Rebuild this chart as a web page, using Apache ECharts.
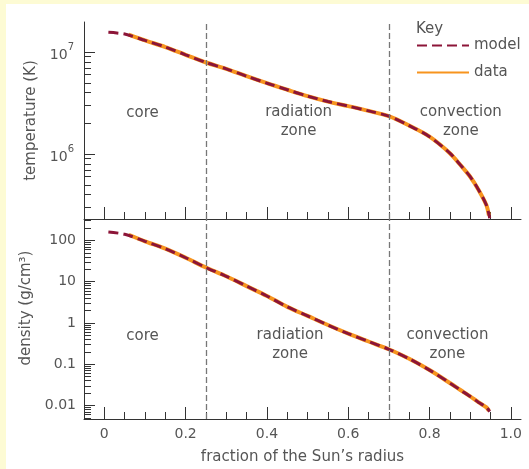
<!DOCTYPE html>
<html>
<head>
<meta charset="utf-8">
<script src="https://cdn.jsdelivr.net/npm/echarts@6/dist/echarts.min.js"></script>
<style>
html, body { margin: 0; padding: 0; background: #fdfbd4; }
#chart { width: 529px; height: 469px; }
</style>
</head>
<body>
<div id="chart"></div>
<script>
// radius as a fraction of the Sun's radius
const modelRadius = [0.01, 0.05, 0.1, 0.15, 0.2, 0.25, 0.3, 0.35, 0.4, 0.45, 0.5, 0.55, 0.6, 0.65, 0.7, 0.75, 0.8, 0.85, 0.875, 0.9, 0.92, 0.94, 0.948]
const modelTemp = [1.56e7, 1.50e7, 1.30e7, 1.12e7, 9.4e6, 7.9e6, 6.85e6, 5.8e6, 4.95e6, 4.27e6, 3.7e6, 3.27e6, 2.95e6, 2.65e6, 2.35e6, 1.9e6, 1.48e6, 1.02e6, 7.9e5, 6.0e5, 4.5e5, 3.15e5, 2.35e5]
const modelDensity = [160, 141, 95, 63, 38, 22, 13.5, 7.8, 4.5, 2.45, 1.48, 0.89, 0.55, 0.355, 0.23, 0.135, 0.072, 0.035, 0.024, 0.0166, 0.012, 0.009, 0.0071]

const dataRadius = [0.06, 0.1, 0.15, 0.2, 0.25, 0.3, 0.35, 0.4, 0.45, 0.5, 0.55, 0.6, 0.65, 0.7, 0.75, 0.8, 0.85, 0.875, 0.9, 0.92, 0.94, 0.946]
const dataTemp = [1.48e7, 1.30e7, 1.12e7, 9.4e6, 7.9e6, 6.85e6, 5.8e6, 4.95e6, 4.27e6, 3.7e6, 3.27e6, 2.95e6, 2.65e6, 2.35e6, 1.9e6, 1.48e6, 1.02e6, 7.9e5, 6.0e5, 4.5e5, 3.15e5, 2.5e5]
const dataDensity = [137, 95, 63, 38, 22, 13.5, 7.8, 4.5, 2.45, 1.48, 0.89, 0.55, 0.355, 0.23, 0.135, 0.072, 0.035, 0.024, 0.0166, 0.012, 0.009, 0.0075]

// axis ticks
const xMinorTicks = [0, 0.05, 0.1, 0.15, 0.2, 0.25, 0.3, 0.35, 0.4, 0.45, 0.5, 0.55, 0.6, 0.65, 0.7, 0.75, 0.8, 0.85, 0.9, 0.95, 1.0]
const xMajorTicks = [0, 0.2, 0.4, 0.6, 0.8, 1.0]
const tempTicks = [1e6, 1e7]
const tempMinorTicks = [3e5, 4e5, 5e5, 6e5, 7e5, 8e5, 9e5, 2e6, 3e6, 4e6, 5e6, 6e6, 7e6, 8e6, 9e6]
const densityTicks = [0.01, 0.1, 1, 10, 100]
const densityMinorTicks = [0.005, 0.006, 0.007, 0.008, 0.009, 0.02, 0.03, 0.04, 0.05, 0.06, 0.07, 0.08, 0.09,
    0.2, 0.3, 0.4, 0.5, 0.6, 0.7, 0.8, 0.9, 2, 3, 4, 5, 6, 7, 8, 9, 20, 30, 40, 50, 60, 70, 80, 90, 200, 300]

// boundaries between the zones
const zoneBounds = [0.25, 0.705]
const zoneNames = ['core', 'radiation\nzone', 'convection\nzone']
const tempZoneLabelPos = [[0.094, 2.5e6], [0.478, 2.08e6], [0.877, 2.08e6]]
const densityZoneLabelPos = [[0.094, 0.49], [0.457, 0.305], [0.844, 0.305]]

const FONT = 'DejaVu Sans'
const TEXT = '#555'
const AXIS = '#333'
const MODEL = '#8c1538'
const DATA = '#f7941e'

const zip = (xs, ys) => xs.map((x, i) => [x, ys[i]])

const xAxisPair = (grid, withLabels) => ([
    {
        type: 'value', gridIndex: grid, position: 'bottom', min: -0.05, max: 1.025,
        axisLine: { show: true, onZero: false, lineStyle: { color: AXIS, width: 1 } },
        axisTick: { show: true, inside: true, length: 7, customValues: xMinorTicks, lineStyle: { color: AXIS } },
        axisLabel: {
            show: withLabels, customValues: xMajorTicks, margin: 8,
            color: TEXT, fontSize: 14, fontFamily: FONT,
            formatter: v => v === 1 ? '1.0' : String(v)
        },
        splitLine: { show: false },
        name: withLabels ? "fraction of the Sun\u2019s radius" : '',
        nameLocation: 'middle', nameGap: 31,
        nameTextStyle: { color: TEXT, fontSize: 15, fontFamily: FONT }
    },
    {
        type: 'value', gridIndex: grid, position: 'bottom', min: -0.05, max: 1.025,
        axisLine: { show: false, onZero: false },
        axisTick: { show: true, inside: true, length: 12, customValues: xMajorTicks, lineStyle: { color: AXIS } },
        axisLabel: { show: false },
        splitLine: { show: false }
    }
])

const yAxisPair = (grid, min, max, ticks, minor, labelOpt, name, namePad) => ([
    {
        type: 'log', logBase: 10, gridIndex: grid, position: 'left', min: min, max: max,
        axisLine: { show: true, onZero: false, lineStyle: { color: AXIS, width: 1 } },
        axisTick: { show: true, inside: true, length: 11, customValues: ticks, lineStyle: { color: AXIS } },
        axisLabel: Object.assign({ customValues: ticks, color: TEXT, fontSize: 14, fontFamily: FONT }, labelOpt),
        splitLine: { show: false },
        name: name, nameLocation: 'middle', nameGap: 43,
        nameTextStyle: { color: TEXT, fontSize: 15, fontFamily: FONT, padding: namePad }
    },
    {
        type: 'log', logBase: 10, gridIndex: grid, position: 'left', min: min, max: max,
        axisLine: { show: false, onZero: false },
        axisTick: { show: true, inside: true, length: 7, customValues: minor, lineStyle: { color: AXIS } },
        axisLabel: { show: false },
        splitLine: { show: false }
    }
])

const zoneLines = {
    silent: true,
    symbol: 'none',
    label: { show: false },
    lineStyle: { color: '#777', type: [6, 3], width: 1.3 },
    data: zoneBounds.map(b => ({ xAxis: b }))
}

const zoneLabels = (xi, yi, pos) => ({
    type: 'scatter', xAxisIndex: xi, yAxisIndex: yi, silent: true,
    symbolSize: 1, itemStyle: { color: 'rgba(0,0,0,0)', opacity: 1 },
    label: {
        show: true, position: 'inside', formatter: p => p.name,
        color: TEXT, fontSize: 15, fontFamily: FONT, lineHeight: 19, align: 'center'
    },
    data: pos.map((p, i) => ({ name: zoneNames[i], value: p }))
})

const curve = (name, xi, yi, pts, isModel, marks) => ({
    name: name, type: 'line', xAxisIndex: xi, yAxisIndex: yi,
    symbol: 'none', smooth: 0.3, silent: true,
    lineStyle: isModel ? { color: MODEL, width: 3, type: [10, 5] } : { color: DATA, width: 4 },
    itemStyle: { color: isModel ? MODEL : DATA },
    markLine: marks,
    data: pts
})

const chart = echarts.init(document.getElementById('chart'))

chart.setOption({
    animation: false,
    backgroundColor: '#fdfbd4',
    graphic: [
        { type: 'rect', left: 6, top: 4, shape: { width: 523, height: 465 }, style: { fill: '#fff' }, z: -10 },
        { type: 'text', left: 416, top: 22, style: { text: 'Key', fill: TEXT, font: '15px "DejaVu Sans"' } }
    ],
    legend: {
        data: ['model', 'data'],
        orient: 'vertical', left: 416, top: 38, padding: 0,
        itemWidth: 52, itemHeight: 14, itemGap: 12,
        itemStyle: { opacity: 0 },
        textStyle: { color: TEXT, fontSize: 15, fontFamily: FONT, lineHeight: 14 }
    },
    grid: [
        { left: 84, right: 8, top: 22, height: 197, outerBoundsMode: 'none' },
        { left: 84, right: 8, top: 219, height: 200, outerBoundsMode: 'none' }
    ],
    xAxis: [...xAxisPair(0, false), ...xAxisPair(1, true)],
    yAxis: [
        ...yAxisPair(0, 2.31e5, 1.97e7, tempTicks, tempMinorTicks, {
            margin: 10,
            formatter: v => '{b|10}{s|' + Math.round(Math.log10(v)) + '}',
            rich: {
                b: { fontSize: 14, fontFamily: FONT, color: TEXT, lineHeight: 20, verticalAlign: 'bottom' },
                s: { fontSize: 10, fontFamily: FONT, color: TEXT, lineHeight: 10, verticalAlign: 'top' }
            }
        }, 'temperature (K)', 0),
        ...yAxisPair(1, 0.0047, 330, densityTicks, densityMinorTicks, {
            margin: 8,
            formatter: v => String(v)
        }, 'density (g/cm\u00b3)', [0, 0, 0, 22])
    ],
    series: [
        curve('data', 0, 0, zip(dataRadius, dataTemp), false, zoneLines),
        curve('model', 0, 0, zip(modelRadius, modelTemp), true),
        curve('data', 2, 2, zip(dataRadius, dataDensity), false, zoneLines),
        curve('model', 2, 2, zip(modelRadius, modelDensity), true),
        zoneLabels(0, 0, tempZoneLabelPos),
        zoneLabels(2, 2, densityZoneLabelPos)
    ]
})
</script>
</body>
</html>
